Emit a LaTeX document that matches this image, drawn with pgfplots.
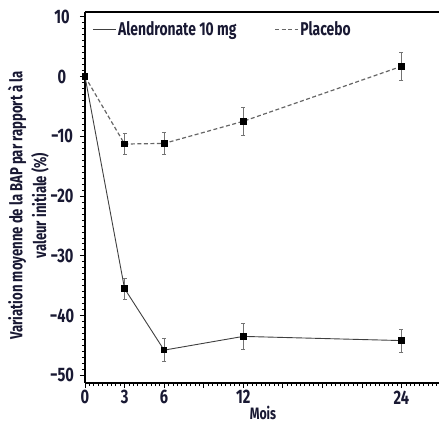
\documentclass[border=0pt]{standalone}
\usepackage{fontspec}
\setmainfont{Fira Sans}[FakeStretch=0.75]
\usepackage{pgfplots}
\pgfplotsset{compat=1.18}
\definecolor{txt}{rgb}{0.10,0.10,0.20}
\begin{document}
\begin{tikzpicture}
\path[use as bounding box] (-85pt,-45pt) rectangle (354pt,383pt);
\begin{axis}[
  scale only axis, width=356pt, height=371pt,
  at={(0,0)}, anchor=south west,
  xmin=0, xmax=27, ymin=-51.3, ymax=10.8,
  axis x line=bottom, axis y line=left,
  axis line style={-, line width=1.2pt, black},
  tick align=outside,
  xtick={0,3,...,27}, xticklabels={0,3,6,,12,,,,24,},
  minor x tick num=8,
  ytick={-50,-40,...,10}, yticklabels={−50,−40,−30,−20,−10,0,10},
  minor y tick num=9,
  major tick length=5pt, minor tick length=3pt,
  tick style={black, line width=0.6pt},
  ticklabel style={font=\fontsize{19.5}{21}\bfseries, text=txt},
  yticklabel style={anchor=center, xshift=-18pt},
  xticklabel style={yshift=1pt},
  xlabel={Mois}, xlabel style={font=\fontsize{16.5}{18}\bfseries, text=txt, yshift=3pt, inner sep=1pt},
  ylabel={\shortstack{Variation moyenne de la BAP par rapport à la\\[2pt]valeur initiale (\%)}},
  ylabel style={font=\fontsize{17.5}{18}\bfseries, text=txt, yshift=-6pt, xshift=-8pt},
  legend columns=2,
  legend style={draw=none, fill=none, at={(0.012,0.985)}, anchor=north west,
    font=\fontsize{18.5}{20}\bfseries, text=txt, /tikz/every even column/.append style={column sep=36pt}},
  legend image code/.code={\draw[#1, mark=none] (0cm,0cm) -- (0.8cm,0cm);},
  clip=false,
]
\addplot[black!75, line width=0.9pt, mark=square*, mark size=2.8pt,
  mark options={solid, fill=black, draw=black},
  error bars/.cd, y dir=both, y explicit,
  error bar style={black!55, line width=0.8pt, solid},
  error mark options={rotate=90, mark size=2pt, black!55, line width=0.8pt}]
  coordinates {(0,0) +- (0,0) (3,-35.5) +- (0,1.75) (6,-45.8) +- (0,1.9) (12,-43.5) +- (0,2.25) (24,-44.2) +- (0,1.9)};
\addlegendentry{Alendronate 10 mg}
\addplot[black!60, line width=1.2pt, dash pattern=on 4pt off 2.5pt, mark=square*, mark size=2.8pt,
  mark options={solid, fill=black, draw=black},
  error bars/.cd, y dir=both, y explicit,
  error bar style={black!55, line width=0.8pt, solid},
  error mark options={rotate=90, mark size=2pt, black!55, line width=0.8pt}]
  coordinates {(0,0) +- (0,0) (3,-11.3) +- (0,1.75) (6,-11.2) +- (0,1.9) (12,-7.5) +- (0,2.3) (24,1.7) +- (0,2.3)};
\addlegendentry{Placebo}
\draw[line width=1.2pt, black] (rel axis cs:0,1) -- (rel axis cs:1,1);
\end{axis}
\end{tikzpicture}
\end{document}
